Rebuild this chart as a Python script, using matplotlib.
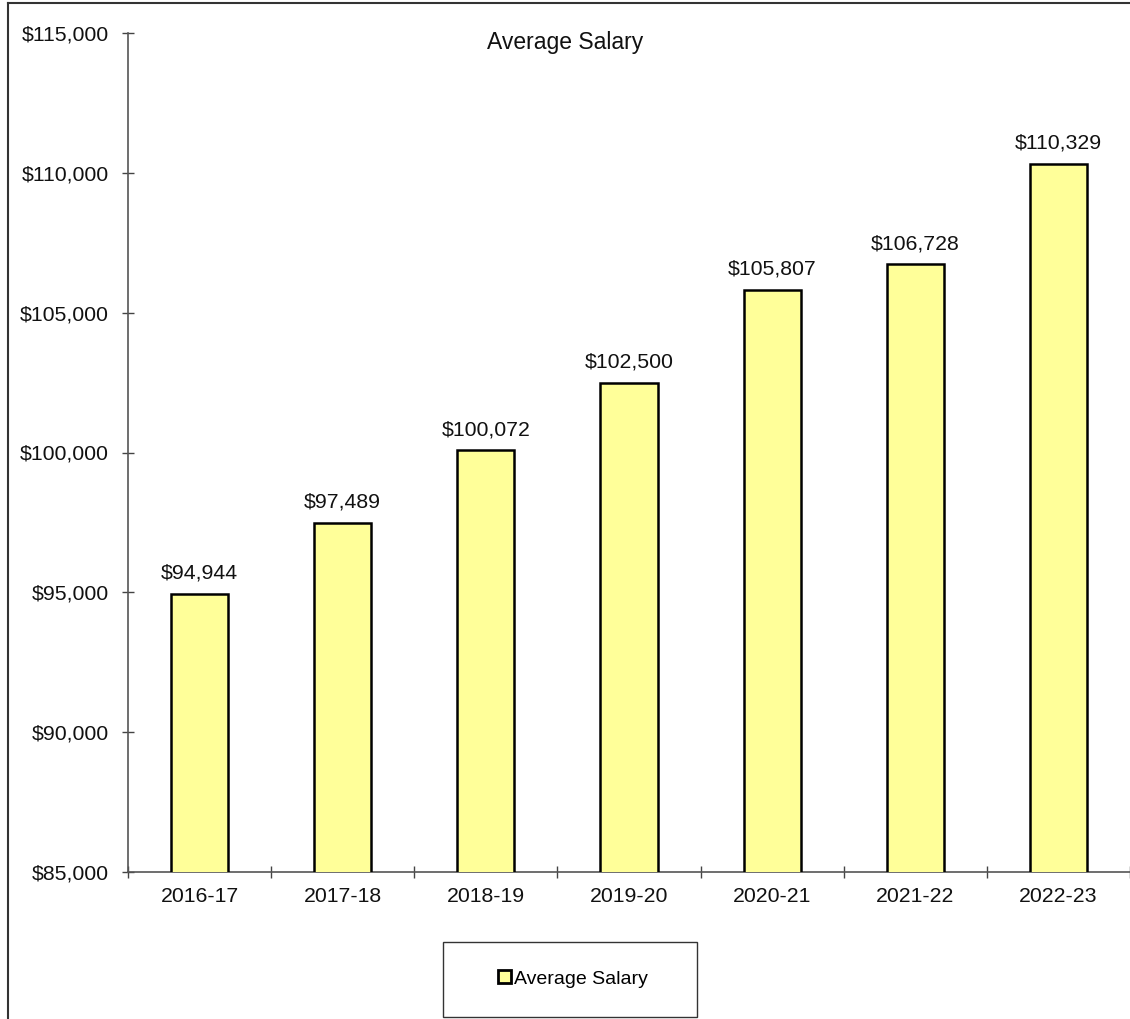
import matplotlib
matplotlib.use("Agg")
import matplotlib.pyplot as plt
from matplotlib.lines import Line2D
from matplotlib.patches import Rectangle
from matplotlib.ticker import FuncFormatter, FixedLocator
import numpy as np

plt.rcParams['font.family'] = ['Liberation Sans', 'DejaVu Sans']

categories = ["2016-17", "2017-18", "2018-19", "2019-20", "2020-21", "2021-22", "2022-23"]
salaries = [94944, 97489, 100072, 102500, 105807, 106728, 110329]
yticks = [85000, 90000, 95000, 100000, 105000, 110000, 115000]
series_name = "Average Salary"
title = "Average Salary"

W, H = 1130, 1019
fig = plt.figure(figsize=(W / 100, H / 100), dpi=100)
ax = fig.add_axes([128 / W, 1 - 872 / H, (1130 - 128) / W, (872 - 33) / H])

x = np.arange(len(categories))
bars = ax.bar(x, salaries, width=0.4, color="#FFFF99", edgecolor="black",
              linewidth=1.8, label=series_name, zorder=3)

ax.set_xlim(-0.5, len(categories) - 0.5)
ax.set_ylim(yticks[0], yticks[-1])
ax.yaxis.set_major_locator(FixedLocator(yticks))
ax.yaxis.set_major_formatter(FuncFormatter(lambda v, p: f"${v:,.0f}"))
ax.set_xticks(x)
ax.set_xticklabels(categories)
ax.xaxis.set_minor_locator(FixedLocator(np.arange(-0.5, len(categories), 1.0)))

for s in ["top", "right"]:
    ax.spines[s].set_visible(False)
for s in ["left", "bottom"]:
    ax.spines[s].set_color("#555555")
    ax.spines[s].set_linewidth(1.2)

FS = 15.3
ax.tick_params(axis="y", direction="inout", length=9, width=1.0, color="#444444",
               labelsize=FS, labelcolor="#111111", pad=9.5)
ax.tick_params(axis="x", which="major", length=0, labelsize=FS, labelcolor="#111111", pad=11)
ax.tick_params(axis="x", which="minor", direction="inout", length=9, width=1.0, color="#444444")

for xi, v in zip(x, salaries):
    ax.annotate(f"${v:,.0f}", (xi, v), xytext=(0, 8), textcoords="offset points",
                ha="center", va="bottom", fontsize=FS, color="#111111")

fig.text(565 / W, 1 - 43 / H, title, ha="center", va="center", fontsize=16.5, color="#111111")

leg = ax.legend(loc="center", bbox_to_anchor=(573 / W, 1 - 979 / H),
                bbox_transform=fig.transFigure, frameon=False, fontsize=14,
                handlelength=0.65, handleheight=0.65, handletextpad=0.15,
                borderpad=0, borderaxespad=0)
leg.legend_handles[0].set_linewidth(2.0)
fig.patches.append(Rectangle((443 / W, 1 - 1017 / H), (697 - 443) / W, (1017 - 942) / H,
                             transform=fig.transFigure, fill=False,
                             edgecolor="#333333", linewidth=1.0))

# outer chart border
fig.lines.append(Line2D([8 / W, 8 / W], [0, 1 - 3 / H], transform=fig.transFigure,
                        color="#333333", linewidth=1.5))
fig.lines.append(Line2D([8 / W, 1], [1 - 3 / H, 1 - 3 / H], transform=fig.transFigure,
                        color="#333333", linewidth=1.5))

fig.savefig("out.png", dpi=100)
